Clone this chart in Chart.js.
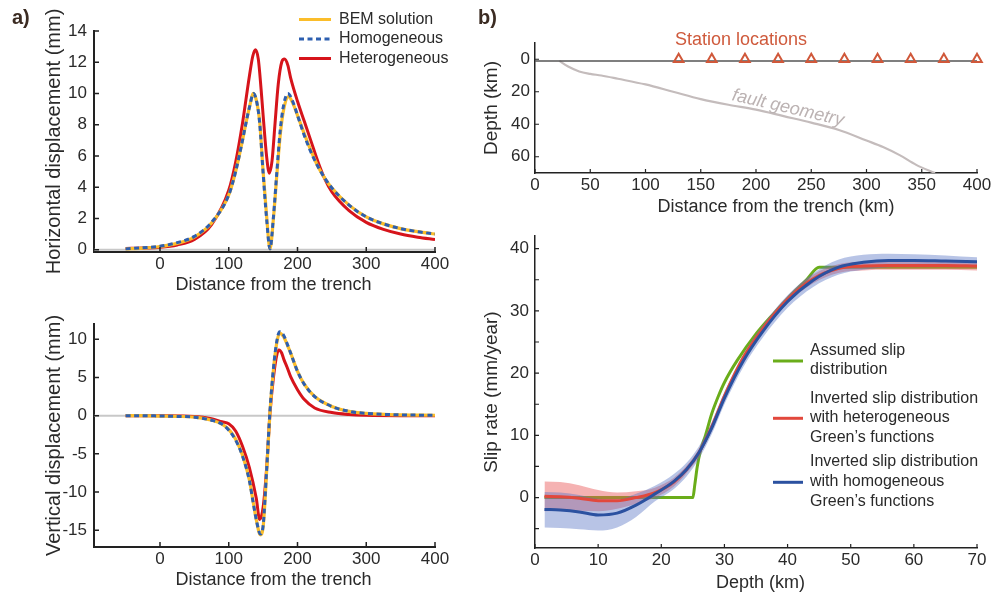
<!DOCTYPE html>
<html>
<head>
<meta charset="utf-8">
<script src="https://cdn.jsdelivr.net/npm/chart.js@4.4.1/dist/chart.umd.min.js"></script>
<style>
  body { margin: 0; background: #fff; width: 1002px; height: 596px; position: relative; overflow: hidden; }
  canvas { position: absolute; }
</style>
</head>
<body>
<canvas id="horiz" width="480" height="300" style="left:0;top:0"></canvas>
<canvas id="vert" width="480" height="296" style="left:0;top:300px"></canvas>
<canvas id="geom" width="532" height="220" style="left:470px;top:0"></canvas>
<canvas id="slip" width="532" height="376" style="left:470px;top:220px"></canvas>
<script>
// ---- a) surface displacement --------------------------------------
const distTicks = [0, 100, 200, 300, 400];
const horizTicks = [0, 2, 4, 6, 8, 10, 12, 14];
const vertTicks = [-15, -10, -5, 0, 5, 10];

// horizontal displacement (mm)
const bemHX = [-50, -25, 0, 25, 50, 75, 100, 110, 120, 125, 130, 136, 141, 145, 150, 155, 160, 165, 170, 175, 180, 187, 193, 200, 210, 220, 230, 240, 250, 275, 300, 325, 350, 375, 400];
const bemH  = [0.05, 0.1, 0.2, 0.4, 0.8, 1.7, 3.5, 5.0, 7.0, 8.1, 9.1, 10.0, 9.4, 8.2, 5.0, 2.2, 0.05, 2.0, 4.8, 7.4, 9.0, 9.8, 9.4, 8.6, 7.4, 6.3, 5.3, 4.55, 3.95, 2.85, 2.1, 1.65, 1.35, 1.15, 1.0];
const homHX = [-50, -25, 0, 25, 50, 75, 100, 110, 120, 125, 130, 136, 141, 145, 150, 155, 160, 165, 170, 175, 180, 186, 193, 200, 210, 220, 230, 240, 250, 275, 300, 325, 350, 375, 400];
const homH  = [0.05, 0.12, 0.22, 0.45, 0.85, 1.75, 3.5, 5.0, 7.0, 8.1, 9.1, 10.0, 9.4, 8.1, 4.9, 2.0, 0.05, 2.1, 5.0, 7.7, 9.3, 10.0, 9.5, 8.6, 7.3, 6.2, 5.3, 4.55, 3.95, 2.85, 2.1, 1.65, 1.35, 1.15, 1.0];
const hetHX = [-50, -25, 0, 25, 50, 75, 100, 110, 120, 125, 130, 135, 139, 143, 147, 150, 155, 159, 163, 167, 172, 177, 181, 186, 190, 200, 210, 220, 230, 240, 250, 275, 300, 325, 350, 375, 400];
const hetH  = [0.08, 0.1, 0.15, 0.3, 0.65, 1.6, 3.8, 5.6, 8.1, 9.6, 11.1, 12.4, 12.8, 12.2, 10.3, 8.6, 6.0, 4.9, 5.7, 7.9, 10.6, 12.0, 12.2, 11.8, 11.0, 9.5, 8.2, 6.9, 5.6, 4.5, 3.7, 2.5, 1.75, 1.3, 1.0, 0.8, 0.65];

// vertical displacement (mm)
const bemVX = [-50, -25, 0, 25, 50, 75, 90, 100, 110, 120, 130, 135, 140, 146, 150, 155, 160, 165, 170, 174, 180, 185, 190, 200, 210, 225, 250, 275, 300, 350, 400];
const bemV  = [0, 0, -0.05, -0.1, -0.2, -0.6, -1.1, -1.8, -3.1, -5.2, -8.4, -11, -13.6, -15.6, -14.6, -7.5, 0.5, 6.0, 9.6, 10.8, 10.3, 9.3, 8.2, 5.8, 4.1, 2.5, 1.2, 0.56, 0.3, 0.1, 0.05];
const homV  = [0, 0, -0.05, -0.1, -0.2, -0.6, -1.1, -1.9, -3.2, -5.3, -8.5, -11.1, -13.6, -15.5, -14.4, -7.3, 0.7, 6.2, 9.8, 11.0, 10.5, 9.4, 8.2, 5.8, 4.1, 2.5, 1.2, 0.56, 0.3, 0.1, 0.05];
const hetVX = [-50, 0, 50, 75, 90, 100, 110, 120, 130, 140, 145, 150, 155, 160, 165, 170, 173, 177, 180, 185, 190, 200, 210, 225, 250, 275, 300, 350, 400];
const hetV  = [0, -0.02, -0.1, -0.4, -0.8, -1.05, -2.0, -4.0, -6.8, -10.8, -13.6, -12.0, -7.0, 0.3, 5.0, 8.0, 8.6, 8.2, 7.4, 6.3, 5.1, 3.4, 2.1, 1.0, 0.4, 0.15, 0.05, 0, 0];

// ---- b) model geometry and slip ------------------------------------
const geomXTicks = [0, 50, 100, 150, 200, 250, 300, 350, 400];
const depthTicks = [0, 20, 40, 60];
const stationX = [130, 160, 190, 220, 250, 280, 310, 340, 370, 400];
const stationDepth = [0, 0, 0, 0, 0, 0, 0, 0, 0, 0];
const faultX = [22, 30, 40, 50, 60, 75, 100, 125, 150, 175, 200, 225, 250, 275, 300, 315, 330, 345, 362];
const faultDepth = [1, 4.5, 7.5, 9, 10, 12, 15.5, 20, 24.5, 28, 31, 35, 39, 43.5, 50, 54, 59, 65, 70];
const surfaceX = [0, 400];
const surfaceDepth = [1, 1];

const slipXTicks = [0, 10, 20, 30, 40, 50, 60, 70];
const slipYTicks = [-5, 0, 5, 10, 15, 20, 25, 30, 35, 40];
const slipYLabels = [0, 10, 20, 30, 40];
const assumedDepth = [1.5, 25, 25.3, 25.7, 26.2, 27, 28, 29, 30, 32, 35, 38, 40, 43, 45, 70];
const assumedSlip  = [0, 0, 2, 5, 7.5, 10, 13.5, 16.2, 18.5, 22, 26.3, 29.8, 32, 35, 37, 37];
const slipDepth = [1.5, 4, 7, 10, 13, 16, 19, 22, 24, 26, 28, 30, 33, 36, 40, 44, 48, 52, 56, 60, 65, 70];
const hetSlip  = [0.2, 0.15, -0.1, -0.5, -0.5, 0, 0.8, 2.5, 4.5, 7.3, 11.4, 16.3, 22.5, 27.0, 31.8, 35.1, 36.8, 37.2, 37.3, 37.3, 37.3, 37.2];
const hetUpper = [2.6, 2.5, 2.0, 1.2, 0.8, 1.0, 1.6, 3.2, 5.1, 7.9, 12.0, 16.9, 23.1, 27.6, 32.4, 35.8, 37.5, 37.9, 38.0, 38.0, 38.0, 38.0];
const hetLower = [-2.2, -2.1, -2.1, -2.2, -1.8, -1.0, 0, 1.8, 3.9, 6.7, 10.8, 15.7, 21.9, 26.4, 31.2, 34.4, 36.1, 36.5, 36.6, 36.6, 36.6, 36.5];
const homSlip  = [-1.9, -2.0, -2.3, -2.8, -2.5, -1.2, 0.6, 2.6, 4.5, 7.3, 11.2, 16.0, 22.0, 26.6, 31.5, 34.9, 37.0, 37.8, 38.1, 38.1, 38.0, 37.9];
const homUpper = [0.9, 0.8, 0.4, -0.2, -0.3, 0.6, 1.9, 3.8, 5.6, 8.3, 12.2, 17.0, 23.0, 27.6, 32.5, 36.0, 38.2, 39.0, 39.2, 39.1, 38.9, 38.6];
const homLower = [-4.8, -4.9, -5.1, -5.3, -4.8, -3.1, -0.6, 1.4, 3.4, 6.3, 10.2, 15.0, 21.0, 25.6, 30.5, 33.8, 35.8, 36.6, 37.0, 37.1, 37.1, 37.2];

const DIST_MIN = -96;

// -------------------------------------------------------------------
const FONT = '"Liberation Sans", Arial, Helvetica, sans-serif';
const INK = '#2a2a2a';
Chart.defaults.font.family = FONT;
Chart.defaults.color = INK;
Chart.defaults.animation = false;
Chart.defaults.plugins.legend.display = false;
Chart.defaults.plugins.tooltip.enabled = false;

const YELLOW = '#fbbd2a', BLUE_A = '#2d5fb0', RED_A = '#d6141b';
const GREEN = '#6aad1a', RED_B = '#e2483c', BLUE_B = '#2b51a0';

function pts(xs, ys) {
  return xs.map((x, i) => ({ x: x, y: ys[i] }));
}

function curve(xs, ys, color, width, extra) {
  return Object.assign({
    data: pts(xs, ys),
    borderColor: color,
    borderWidth: width,
    pointRadius: 0,
    fill: false,
    cubicInterpolationMode: 'monotone'
  }, extra || {});
}

function xAxis(min, max, ticks, height, border) {
  return {
    type: 'linear', min: min, max: max,
    grid: { display: false, drawTicks: false },
    border: { color: '#222', width: border },
    ticks: { font: { size: 17 }, padding: 2, color: INK, maxRotation: 0, autoSkip: false },
    afterBuildTicks: s => { s.ticks = ticks.map(v => ({ value: v })); },
    afterFit: s => { s.height = height; }
  };
}

function yAxis(min, max, ticks, width, title, size, pad, border, labelPad) {
  return {
    type: 'linear', min: min, max: max,
    grid: { display: false, drawTicks: false },
    border: { color: '#222', width: border },
    ticks: { font: { size: 17 }, padding: labelPad, color: INK, autoSkip: false },
    title: { display: true, text: title, color: INK, font: { size: size }, padding: { top: pad, bottom: 0 } },
    afterBuildTicks: s => { s.ticks = ticks.map(v => ({ value: v })); },
    afterFit: s => { s.width = width; }
  };
}

// inward tick marks, hand-drawn legends and free text
function overlay(cfg) {
  return {
    id: 'overlay',
    afterDraw(chart) {
      const ctx = chart.ctx, area = chart.chartArea;
      const xs = chart.scales.x, ys = chart.scales.y;
      ctx.save();
      ctx.strokeStyle = '#222';
      ctx.lineWidth = cfg.tickWidth;
      ctx.beginPath();
      xs.ticks.forEach(t => {
        const p = xs.getPixelForValue(t.value);
        ctx.moveTo(p, area.bottom);
        ctx.lineTo(p, area.bottom - cfg.tickLen);
      });
      ys.ticks.forEach(t => {
        const p = ys.getPixelForValue(t.value);
        ctx.moveTo(area.left, p);
        ctx.lineTo(area.left + cfg.tickLen, p);
      });
      ctx.stroke();

      (cfg.keys || []).forEach(k => {
        ctx.strokeStyle = k.color;
        ctx.lineWidth = k.width;
        ctx.setLineDash(k.dash || []);
        ctx.beginPath();
        ctx.moveTo(k.x1, k.y);
        ctx.lineTo(k.x2, k.y);
        ctx.stroke();
      });
      ctx.setLineDash([]);

      (cfg.notes || []).forEach(n => {
        ctx.save();
        ctx.translate(n.x, n.y);
        if (n.angle) ctx.rotate(n.angle * Math.PI / 180);
        ctx.font = n.font;
        ctx.fillStyle = n.color || INK;
        ctx.textAlign = n.align || 'left';
        ctx.textBaseline = 'middle';
        ctx.fillText(n.text, 0, 0);
        ctx.restore();
      });
      ctx.restore();
    }
  };
}

// Horizontal displacement
new Chart(document.getElementById('horiz'), {
  type: 'line',
  data: {
    datasets: [
      curve(homHX, homH, BLUE_A, 3, { borderDash: [5, 3.5] }),
      curve(bemHX, bemH, YELLOW, 3.2),
      curve(hetHX, hetH, RED_A, 3),
      curve([DIST_MIN, 400], [0, 0], '#c8c8c8', 2)
    ]
  },
  options: {
    responsive: false,
    layout: { padding: { left: 0, right: 45, top: 31, bottom: 0 } },
    scales: {
      x: xAxis(DIST_MIN, 400, distTicks, 48, 2),
      y: yAxis(-0.15, 14, horizTicks, 94, 'Horizontal displacement (mm)', 20, 42, 2, 7)
    }
  },
  plugins: [overlay({
    tickLen: 5, tickWidth: 1.5,
    keys: [
      { x1: 299, x2: 331, y: 19.5, color: YELLOW, width: 3 },
      { x1: 299, x2: 331, y: 39, color: BLUE_A, width: 3, dash: [5, 3.5] },
      { x1: 299, x2: 331, y: 58.5, color: RED_A, width: 3 }
    ],
    notes: [
      { text: 'a)', x: 12, y: 18, font: 'bold 20px ' + FONT, color: '#3b2b22' },
      { text: 'BEM solution', x: 339, y: 19.5, font: '16px ' + FONT },
      { text: 'Homogeneous', x: 339, y: 39, font: '16px ' + FONT },
      { text: 'Heterogeneous', x: 339, y: 58.5, font: '16px ' + FONT },
      { text: 'Distance from the trench', x: 273.5, y: 285, font: '18px ' + FONT, align: 'center' }
    ]
  })]
});

// Vertical displacement
new Chart(document.getElementById('vert'), {
  type: 'line',
  data: {
    datasets: [
      curve(bemVX, homV, BLUE_A, 3, { borderDash: [5, 3.5] }),
      curve(bemVX, bemV, YELLOW, 3.2),
      curve(hetVX, hetV, RED_A, 3),
      curve([DIST_MIN, 400], [0, 0], '#c8c8c8', 2)
    ]
  },
  options: {
    responsive: false,
    layout: { padding: { left: 0, right: 45, top: 24, bottom: 0 } },
    scales: {
      x: xAxis(DIST_MIN, 400, distTicks, 49, 2),
      y: yAxis(-17.2, 12, vertTicks, 94, 'Vertical displacement (mm)', 20, 42, 2, 7)
    }
  },
  plugins: [overlay({
    tickLen: 5, tickWidth: 1.5,
    notes: [
      { text: 'Distance from the trench', x: 273.5, y: 280, font: '18px ' + FONT, align: 'center' }
    ]
  })]
});

// Fault geometry and GPS stations
new Chart(document.getElementById('geom'), {
  type: 'line',
  data: {
    datasets: [
      curve(stationX, stationDepth, '#d0583a', 2, {
        showLine: false, pointRadius: 5.5, pointStyle: 'triangle', clip: false,
        pointBorderColor: '#d0583a', pointBackgroundColor: 'rgba(255,255,255,0)', pointBorderWidth: 2
      }),
      curve(surfaceX, surfaceDepth, '#555', 1.5),
      curve(faultX, faultDepth, '#c4bcbc', 2.2)
    ]
  },
  options: {
    responsive: false,
    layout: { padding: { left: 0, right: 25, top: 43, bottom: 0 } },
    scales: {
      x: xAxis(0, 400, geomXTicks, 47, 1.5),
      y: Object.assign(yAxis(-10, 70, depthTicks, 65, 'Depth (km)', 19, 10, 1.5, 5), { reverse: true })
    }
  },
  plugins: [overlay({
    tickLen: 4, tickWidth: 1.2,
    notes: [
      { text: 'b)', x: 8, y: 18, font: 'bold 20px ' + FONT, color: '#3b2b22' },
      { text: 'Station locations', x: 271, y: 40, font: '18px ' + FONT, color: '#cf5a3c', align: 'center' },
      { text: 'fault geometry', x: 318, y: 108, font: 'italic 18px ' + FONT, color: '#bcb3b3', align: 'center', angle: 13 },
      { text: 'Distance from the trench (km)', x: 306, y: 207, font: '18px ' + FONT, align: 'center' }
    ]
  })]
});

// Slip rate versus depth
new Chart(document.getElementById('slip'), {
  type: 'line',
  data: {
    datasets: [
      curve(slipDepth, homSlip, BLUE_B, 3),
      curve(slipDepth, hetSlip, RED_B, 3),
      curve(slipDepth, homUpper, 'rgba(0,0,0,0)', 0, { fill: '+1', backgroundColor: 'rgba(85,115,195,0.42)' }),
      curve(slipDepth, homLower, 'rgba(0,0,0,0)', 0),
      curve(slipDepth, hetUpper, 'rgba(0,0,0,0)', 0, { fill: '+1', backgroundColor: 'rgba(232,85,85,0.45)' }),
      curve(slipDepth, hetLower, 'rgba(0,0,0,0)', 0),
      curve(assumedDepth, assumedSlip, GREEN, 3)
    ]
  },
  options: {
    responsive: false,
    layout: { padding: { left: 0, right: 25, top: 14, bottom: 0 } },
    scales: {
      x: xAxis(0, 70, slipXTicks, 48, 1.5),
      y: (() => {
        const y = yAxis(-8.1, 42, slipYTicks, 65, 'Slip rate (mm/year)', 19, 10, 1.5, 6);
        y.ticks.callback = v => slipYLabels.includes(v) ? String(v) : '';
        return y;
      })()
    }
  },
  plugins: [overlay({
    tickLen: 4, tickWidth: 1.2,
    keys: [
      { x1: 303, x2: 333, y: 141, color: GREEN, width: 3 },
      { x1: 303, x2: 333, y: 198.3, color: RED_B, width: 3 },
      { x1: 303, x2: 333, y: 262.3, color: BLUE_B, width: 3 }
    ],
    notes: [
      { text: 'Assumed slip', x: 340, y: 130.7, font: '16px ' + FONT },
      { text: 'distribution', x: 340, y: 150, font: '16px ' + FONT },
      { text: 'Inverted slip distribution', x: 340, y: 178.7, font: '16px ' + FONT },
      { text: 'with heterogeneous', x: 340, y: 198, font: '16px ' + FONT },
      { text: 'Green\u2019s functions', x: 340, y: 217.7, font: '16px ' + FONT },
      { text: 'Inverted slip distribution', x: 340, y: 242, font: '16px ' + FONT },
      { text: 'with homogeneous', x: 340, y: 262, font: '16px ' + FONT },
      { text: 'Green\u2019s functions', x: 340, y: 282, font: '16px ' + FONT },
      { text: 'Depth (km)', x: 290.5, y: 363, font: '18px ' + FONT, align: 'center' }
    ]
  })]
});
</script>
</body>
</html>
